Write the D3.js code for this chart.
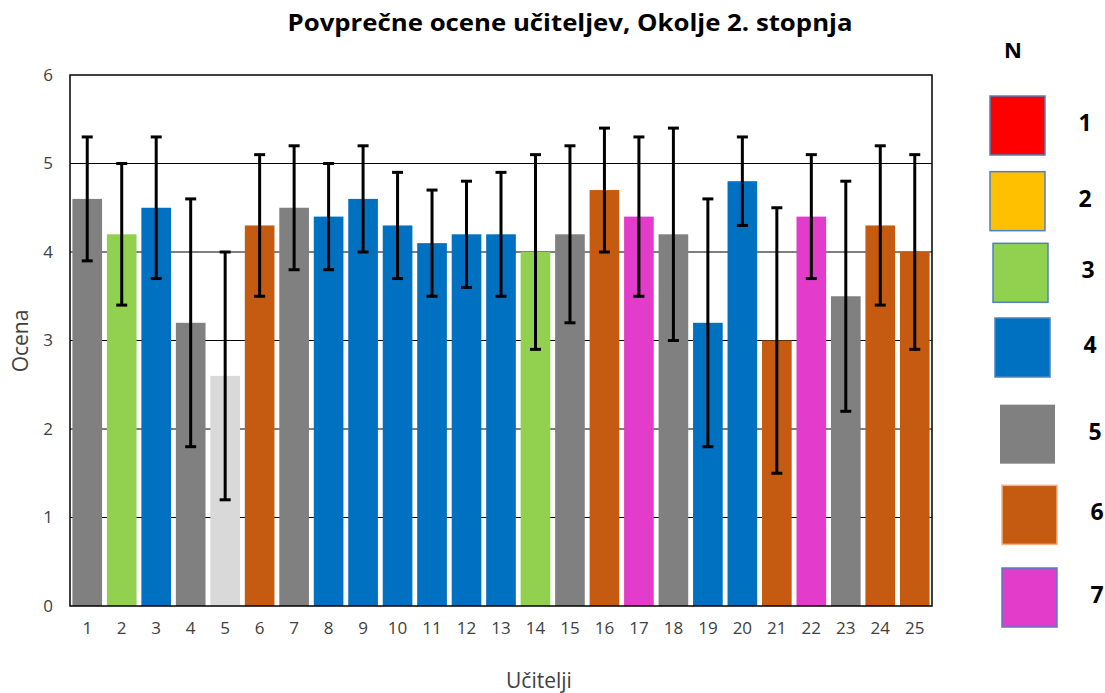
<!DOCTYPE html>
<html>
<head>
<meta charset="utf-8">
<script src="https://cdn.jsdelivr.net/npm/d3@7"></script>
<style>
  body { margin: 0; background: #fff; }
  svg { font-family: "Open Sans", Lato, sans-serif; }
</style>
</head>
<body>
<svg id="chart" width="1105" height="693"></svg>
<script>
// data
var teachers = d3.range(1, 26).map(String);
var means   = [4.6, 4.2, 4.5, 3.2, 2.6, 4.3, 4.5, 4.4, 4.6, 4.3, 4.1, 4.2, 4.2, 4.0, 4.2, 4.7, 4.4, 4.2, 3.2, 4.8, 3.0, 4.4, 3.5, 4.3, 4.0];
var errLow  = [3.9, 3.4, 3.7, 1.8, 1.2, 3.5, 3.8, 3.8, 4.0, 3.7, 3.5, 3.6, 3.5, 2.9, 3.2, 4.0, 3.5, 3.0, 1.8, 4.3, 1.5, 3.7, 2.2, 3.4, 2.9];
var errHigh = [5.3, 5.0, 5.3, 4.6, 4.0, 5.1, 5.2, 5.0, 5.2, 4.9, 4.7, 4.8, 4.9, 5.1, 5.2, 5.4, 5.3, 5.4, 4.6, 5.3, 4.5, 5.1, 4.8, 5.2, 5.1];
// N group of each teacher (0 = not in legend, drawn light grey)
var nGroup  = [5, 3, 4, 5, 0, 6, 5, 4, 4, 4, 4, 4, 4, 3, 5, 6, 7, 5, 4, 4, 6, 7, 5, 6, 6];
var legendN = [1, 2, 3, 4, 5, 6, 7];
var yTicks  = [0, 1, 2, 3, 4, 5, 6];

var groupColor = {
  0: "#D9D9D9", 1: "#FF0000", 2: "#FFC000", 3: "#92D050",
  4: "#0070C0", 5: "#808080", 6: "#C55A11", 7: "#E33CCA"
};
var groupStroke = {
  1: "#4f81bd", 2: "#4f81bd", 3: "#4f81bd", 4: "#4f81bd",
  5: "none", 6: "#f4b183", 7: "#4f81bd"
};

var svg = d3.select("#chart");
var margin = {top: 75, right: 173, bottom: 87, left: 70};
var width = 1105, height = 693;

var x = d3.scaleBand()
    .domain(teachers)
    .range([margin.left, width - margin.right])
    .paddingInner(0.14)
    .paddingOuter(0.07);

var y = d3.scaleLinear()
    .domain([0, 6])
    .range([height - margin.bottom, margin.top]);

// gridlines
svg.append("g")
  .selectAll("line").data(yTicks.slice(1, -1)).enter().append("line")
    .attr("x1", margin.left).attr("x2", width - margin.right)
    .attr("y1", d => y(d)).attr("y2", d => y(d))
    .attr("stroke", "#000").attr("stroke-width", 1.2);

// bars
svg.append("g")
  .selectAll("rect").data(teachers).enter().append("rect")
    .attr("x", d => x(d))
    .attr("y", (d, i) => y(means[i]))
    .attr("width", x.bandwidth())
    .attr("height", (d, i) => y(0) - y(means[i]))
    .attr("fill", (d, i) => groupColor[nGroup[i]]);

// error bars
var err = svg.append("g").attr("stroke", "#000").attr("stroke-width", 3);
teachers.forEach(function(d, i) {
  var cx = x(d) + x.bandwidth() / 2;
  err.append("line").attr("x1", cx).attr("x2", cx)
    .attr("y1", y(errLow[i])).attr("y2", y(errHigh[i]));
  [errLow[i], errHigh[i]].forEach(function(v) {
    err.append("line").attr("x1", cx - 5.5).attr("x2", cx + 5.5)
      .attr("y1", y(v)).attr("y2", y(v));
  });
});

// frame
svg.append("rect")
  .attr("x", margin.left).attr("y", margin.top)
  .attr("width", width - margin.left - margin.right)
  .attr("height", height - margin.top - margin.bottom)
  .attr("fill", "none").attr("stroke", "#000").attr("stroke-width", 1.5);

// axes
var xAxis = g => g
  .attr("transform", `translate(0,${height - margin.bottom + 6})`)
  .call(d3.axisBottom(x).tickSize(0).tickPadding(10))
  .call(g => g.select(".domain").remove());

var yAxis = g => g
  .attr("transform", `translate(${margin.left - 14},0)`)
  .call(d3.axisLeft(y).tickValues(yTicks).tickSize(0).tickFormat(d3.format("d")))
  .call(g => g.select(".domain").remove());

svg.append("g").call(xAxis)
  .selectAll("text").attr("font-size", 17).attr("fill", "#404040")
  .attr("font-family", "'Open Sans', sans-serif");
svg.append("g").call(yAxis)
  .selectAll("text").attr("font-size", 17).attr("fill", "#404040")
  .attr("font-family", "'Open Sans', sans-serif");

// titles
svg.append("text")
  .attr("x", 570).attr("y", 31)
  .attr("text-anchor", "middle")
  .attr("font-size", 24).attr("font-weight", "bold")
  .attr("textLength", 565).attr("lengthAdjust", "spacingAndGlyphs")
  .text("Povprečne ocene učiteljev, Okolje 2. stopnja");

svg.append("text")
  .attr("x", 539).attr("y", 688)
  .attr("text-anchor", "middle")
  .attr("font-size", 21).attr("fill", "#404040")
  .text("Učitelji");

svg.append("text")
  .attr("transform", "translate(28,341) rotate(-90)")
  .attr("text-anchor", "middle")
  .attr("font-size", 21).attr("fill", "#404040")
  .text("Ocena");

// legend (hand placed boxes, as in the original drawing)
var legendNudge = [[0, 0], [0, -3], [3, -10], [5, -14], [10, -6], [12, -4], [12, 0]];
var ly = d3.scalePoint().domain(legendN).range([96, 568]);
var legend = svg.append("g");

legend.append("text")
  .attr("x", 1013).attr("y", 58)
  .attr("text-anchor", "middle")
  .attr("font-size", 22).attr("font-weight", "bold")
  .text("N");

legendN.forEach(function(n, i) {
  var lx = 990 + legendNudge[i][0], yy = ly(n) + legendNudge[i][1];
  legend.append("rect")
    .attr("x", lx).attr("y", yy)
    .attr("width", 55).attr("height", 59)
    .attr("fill", groupColor[n])
    .attr("stroke", groupStroke[n]).attr("stroke-width", 1.5);
  legend.append("text")
    .attr("x", lx + 95).attr("y", yy + 27)
    .attr("dy", "0.35em")
    .attr("text-anchor", "middle")
    .attr("font-size", 23).attr("font-weight", "bold")
    .text(n);
});
</script>
</body>
</html>
